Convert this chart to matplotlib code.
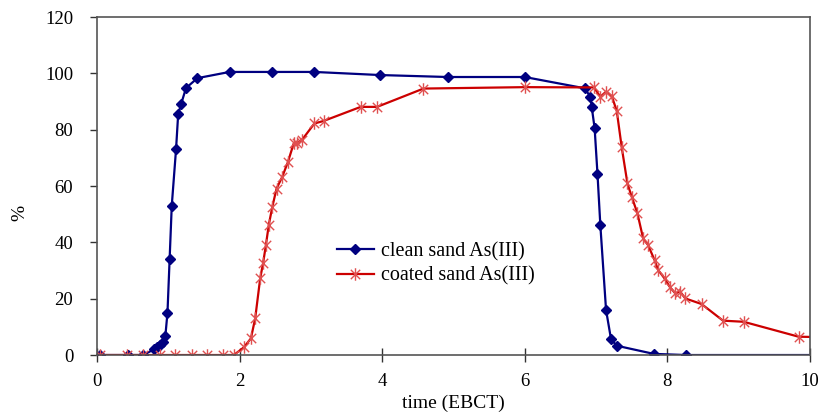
import matplotlib
matplotlib.use("Agg")
import matplotlib.pyplot as plt
from matplotlib.path import Path

plt.rcParams['font.family'] = ['Liberation Serif', 'DejaVu Serif']

# Breakthrough data: time in bed volumes (EBCT) vs. percent
clean_x = [0.05, 0.43, 0.65, 0.80, 0.85, 0.89, 0.93, 0.96, 0.99, 1.02, 1.05, 1.11,
           1.14, 1.18, 1.25, 1.41, 1.86, 2.45, 3.05, 3.97, 4.92, 6.00, 6.84, 6.92,
           6.94, 6.98, 7.02, 7.06, 7.14, 7.21, 7.29, 7.81, 8.26, 10.5]
clean_y = [0, 0, 0, 2.0, 3.0, 3.5, 4.5, 6.7, 15, 34, 53, 73,
           85.5, 89, 94.8, 98.3, 100.5, 100.5, 100.5, 99.4, 98.7, 98.7, 94.7, 91.7,
           87.9, 80.5, 64.3, 46.1, 16, 5.6, 3.3, 0.4, 0, 0]

coated_x = [0.05, 0.42, 0.65, 0.88, 1.10, 1.33, 1.54, 1.77, 1.92, 2.06, 2.16, 2.22,
            2.29, 2.33, 2.37, 2.41, 2.46, 2.52, 2.60, 2.68, 2.76, 2.80, 2.88, 3.05,
            3.18, 3.70, 3.93, 4.58, 6.00, 6.97, 7.06, 7.14, 7.22, 7.29, 7.36, 7.44,
            7.50, 7.58, 7.66, 7.73, 7.82, 7.87, 7.96, 8.03, 8.11, 8.18, 8.25, 8.48,
            8.78, 9.07, 9.84, 10.5]
coated_y = [0, 0, 0, 0, 0, 0, 0, 0, 0, 2.7, 5.9, 13,
            27.2, 32.5, 39, 46.1, 52.6, 59.1, 63.3, 68.6, 75.1, 75.1, 76.5, 82.2,
            83.1, 88.1, 88.1, 94.6, 95.1, 95.0, 91.7, 93.5, 91.9, 86.7, 73.7, 60.9,
            56.2, 50.3, 41.4, 39.0, 33.7, 30.2, 27.2, 24.3, 21.9, 22.5, 20.1, 18.1,
            12.2, 11.8, 6.5, 6.2]

x_ticks = [0, 2, 4, 6, 8, 10]
y_ticks = [0, 20, 40, 60, 80, 100, 120]

# Excel-style star: vertical stroke plus an X
star = Path([(0, -1), (0, 1), (-0.75, -0.75), (0.75, 0.75), (-0.75, 0.75), (0.75, -0.75)],
            [Path.MOVETO, Path.LINETO, Path.MOVETO, Path.LINETO, Path.MOVETO, Path.LINETO])

fig = plt.figure(figsize=(8.21, 4.12), dpi=100)
ax = fig.add_axes([0.118, 0.1383, 0.8686, 0.8204])

ax.plot(clean_x, clean_y, color='#000080', lw=1.6, marker='D', markersize=5.5,
        markerfacecolor='#000080', markeredgecolor='#000080', label='clean sand As(III)',
        clip_on=True)
ax.plot(coated_x, coated_y, color='#CC0000', lw=1.6, marker=star, markersize=9,
        markeredgecolor='#E05050', markeredgewidth=1.0, label='coated sand As(III)',
        clip_on=True)

ax.set_xlim(0, 10)
ax.set_ylim(0, 120)
ax.set_xticks(x_ticks)
ax.set_yticks(y_ticks)
ax.tick_params(axis='y', direction='out', length=5, width=1, labelsize=13.5, pad=12, color='#333333')
ax.tick_params(axis='x', direction='inout', length=10, width=1, labelsize=13.5, pad=8, color='#333333')
for s in ax.spines.values():
    s.set_color('#555555')
    s.set_linewidth(1.2)

ax.set_xlabel('time (EBCT)', fontsize=14, labelpad=3)
ax.set_ylabel('%', fontsize=14)
ax.yaxis.set_label_coords(-0.096, 0.42)

ax.legend(loc='upper left', bbox_to_anchor=(0.322, 0.364), frameon=False, fontsize=14.5,
          handlelength=1.85, handletextpad=0.35, labelspacing=0.25, borderpad=0)

fig.savefig('out.png', dpi=100)
